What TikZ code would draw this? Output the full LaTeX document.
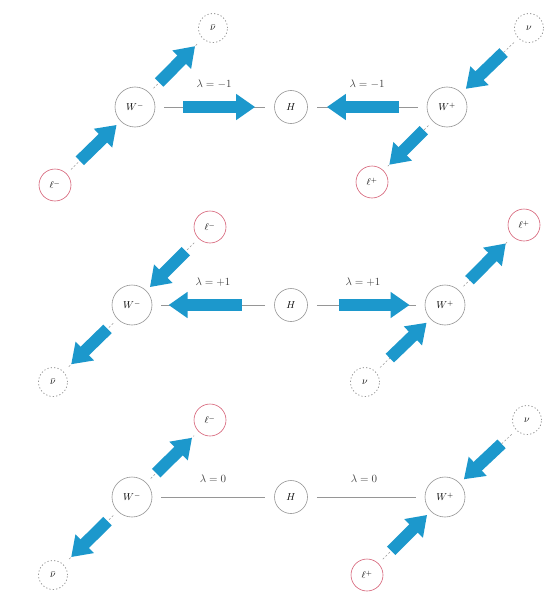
\documentclass[tikz,border=0pt]{standalone}
\usetikzlibrary{arrows.meta,calc}
\definecolor{flowblue}{RGB}{28,152,204}
\definecolor{leptonred}{RGB}{214,96,118}
\definecolor{ringgray}{RGB}{150,150,150}
\tikzset{
  wnode/.style={circle,draw=ringgray,line width=0.6pt,minimum size=40pt,inner sep=0pt,font=\fontsize{10}{11}\selectfont},
  hnode/.style={circle,draw=ringgray,line width=0.6pt,minimum size=33pt,inner sep=0pt,font=\fontsize{10}{11}\selectfont},
  lnode/.style={circle,draw=leptonred,line width=0.6pt,minimum size=32pt,inner sep=0pt,font=\fontsize{10}{11}\selectfont},
  nunode/.style={circle,draw=ringgray,line width=0.8pt,dash pattern=on 1.2pt off 2.2pt,minimum size=29pt,inner sep=0pt,font=\fontsize{10}{11}\selectfont},
  link/.style={draw=ringgray,line width=0.5pt,shorten >=9pt,shorten <=9pt},
  diaglink/.style={draw=ringgray,line width=0.5pt,dash pattern=on 2pt off 2pt,shorten >=6pt,shorten <=6pt},
  spin/.style={draw=flowblue,line width=12pt,-{Triangle[length=19pt,width=25pt]}},
  hel/.style={font=\fontsize{11}{13}\selectfont,text=black!75}
}
% spin arrow along the line from #1 to #2
\newcommand{\spinarrow}[2]{\draw[spin] ($(#1)!0.31!(#2)$) -- ($(#1)!0.77!(#2)$);}
\begin{document}
\begin{tikzpicture}[x=1pt,y=-1pt]
\useasboundingbox (0,0) rectangle (557,594);
\fill[white] (0,0) rectangle (557,594);

% ---- first row: lambda = -1 ----
\node[wnode]  (wma) at (135,107) {$W^-$};
\node[hnode]  (ha)  at (291,107) {$H$};
\node[wnode]  (wpa) at (447,107) {$W^+$};
\node[lnode]  (lma) at (55,185)  {$\ell^-$};
\node[nunode] (nba) at (213,28)  {$\bar\nu$};
\node[nunode] (nua) at (529,28)  {$\nu$};
\node[lnode]  (lpa) at (372,182) {$\ell^+$};
\draw[link] (wma) -- (ha);
\draw[link] (wpa) -- (ha);
\draw[diaglink] (lma) -- (wma);
\draw[diaglink] (wma) -- (nba);
\draw[diaglink] (nua) -- (wpa);
\draw[diaglink] (wpa) -- (lpa);
\spinarrow{wma}{ha}
\spinarrow{wpa}{ha}
\spinarrow{lma}{wma}
\spinarrow{wma}{nba}
\spinarrow{nua}{wpa}
\spinarrow{wpa}{lpa}
\node[hel] (la1) at (214,84) {$\lambda = -1$};
\node[hel] (la2) at (367,84) {$\lambda = -1$};

% ---- second row: lambda = +1 ----
\node[wnode]  (wmb) at (132,305) {$W^-$};
\node[hnode]  (hb)  at (291,305) {$H$};
\node[wnode]  (wpb) at (445,305) {$W^+$};
\node[lnode]  (lmb) at (210,227) {$\ell^-$};
\node[nunode] (nbb) at (53,382)  {$\bar\nu$};
\node[lnode]  (lpb) at (524,225) {$\ell^+$};
\node[nunode] (nub) at (365,382) {$\nu$};
\draw[link] (hb) -- (wmb);
\draw[link] (hb) -- (wpb);
\draw[diaglink] (lmb) -- (wmb);
\draw[diaglink] (wmb) -- (nbb);
\draw[diaglink] (nub) -- (wpb);
\draw[diaglink] (wpb) -- (lpb);
\spinarrow{hb}{wmb}
\spinarrow{hb}{wpb}
\spinarrow{lmb}{wmb}
\spinarrow{wmb}{nbb}
\spinarrow{nub}{wpb}
\spinarrow{wpb}{lpb}
\node[hel] (lb1) at (213,282) {$\lambda = +1$};
\node[hel] (lb2) at (363,282) {$\lambda = +1$};

% ---- third row: lambda = 0 ----
\node[wnode]  (wmc) at (132,497) {$W^-$};
\node[hnode]  (hc)  at (291,497) {$H$};
\node[wnode]  (wpc) at (445,497) {$W^+$};
\node[lnode]  (lmc) at (210,420) {$\ell^-$};
\node[nunode] (nbc) at (53,575)  {$\bar\nu$};
\node[nunode] (nuc) at (527,420) {$\nu$};
\node[lnode]  (lpc) at (367,575) {$\ell^+$};
\draw[link] (wmc) -- (hc);
\draw[link] (hc) -- (wpc);
\draw[diaglink] (wmc) -- (lmc);
\draw[diaglink] (wmc) -- (nbc);
\draw[diaglink] (nuc) -- (wpc);
\draw[diaglink] (lpc) -- (wpc);
\spinarrow{wmc}{lmc}
\spinarrow{wmc}{nbc}
\spinarrow{nuc}{wpc}
\spinarrow{lpc}{wpc}
\node[hel] (lc1) at (213,479) {$\lambda = 0$};
\node[hel] (lc2) at (364,479) {$\lambda = 0$};
\end{tikzpicture}
\end{document}
